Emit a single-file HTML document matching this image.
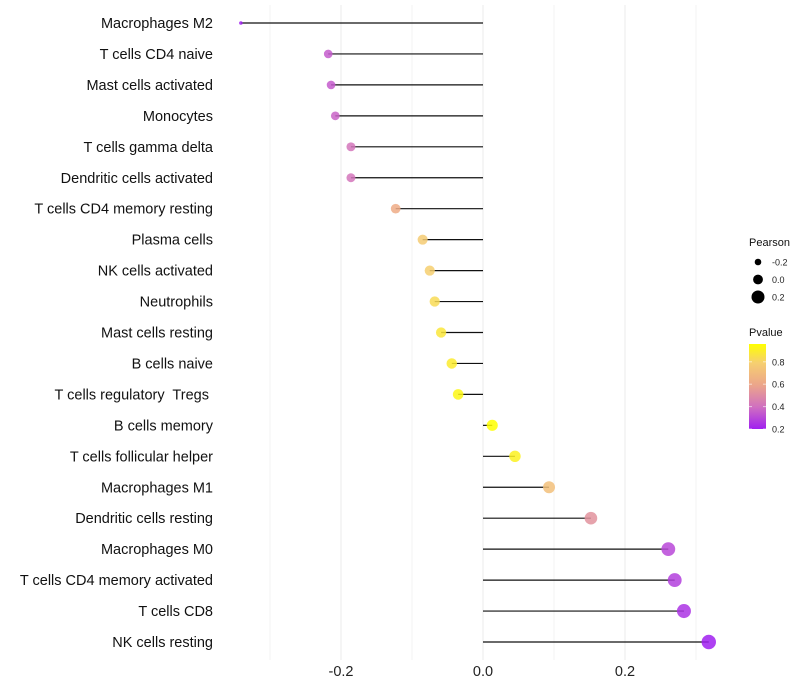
<!DOCTYPE html>
<html><head><meta charset="utf-8"><style>
html,body{margin:0;padding:0;background:#fff;}
svg{display:block;font-family:"Liberation Sans",sans-serif;}
text{white-space:pre;}
</style></head><body>
<svg id="chart" width="800" height="700"></svg>
<script>
const categories=["Macrophages M2","T cells CD4 naive","Mast cells activated","Monocytes","T cells gamma delta","Dendritic cells activated","T cells CD4 memory resting","Plasma cells","NK cells activated","Neutrophils","Mast cells resting","B cells naive","T cells regulatory  Tregs ","B cells memory","T cells follicular helper","Macrophages M1","Dendritic cells resting","Macrophages M0","T cells CD4 memory activated","T cells CD8","NK cells resting"];
const pearson=[-0.341,-0.218,-0.214,-0.208,-0.186,-0.186,-0.123,-0.085,-0.075,-0.068,-0.059,-0.044,-0.035,0.013,0.045,0.093,0.152,0.261,0.270,0.283,0.318];
const pvalue=[0.18,0.35,0.35,0.37,0.42,0.42,0.63,0.78,0.8,0.84,0.88,0.9,0.94,0.98,0.92,0.72,0.53,0.3,0.28,0.25,0.2];
const xTicks=[-0.2,0.0,0.2];
const xTickLabels=["-0.2","0.0","0.2"];
const xMinor=[-0.3,-0.1,0.1,0.3];
const sizeLegend=[-0.2,0.0,0.2];
const pLegendTicks=[0.2,0.4,0.6,0.8];

const NS="http://www.w3.org/2000/svg";
const svg=document.getElementById('chart');
function mk(t,a,p){const e=document.createElementNS(NS,t);for(const k in a)e.setAttribute(k,a[k]);(p||svg).appendChild(e);return e;}
const x=v=>483+v*710;
const y=i=>23+i*30.95;
const rad=v=>v>=-0.22?4.3+5.4*(v+0.22):Math.max(1.8,4.3-(-0.22-v)*21);
const legRad=v=>4.9+8*v;
const stops=[[0.2,[160,32,240]],[0.4,[208,112,192]],[0.6,[236,166,138]],[0.8,[246,207,112]],[0.97,[255,255,0]]];
function col(p){if(p<=stops[0][0])return 'rgb('+stops[0][1]+')';for(let i=1;i<stops.length;i++){if(p<=stops[i][0]){const a=stops[i-1],b=stops[i],t=(p-a[0])/(b[0]-a[0]);return 'rgb('+a[1].map((c,j)=>Math.round(c+(b[1][j]-c)*t)).join(',')+')';}}return 'rgb(255,255,0)';}

xMinor.forEach(v=>{const l=mk('line',{x1:x(v),x2:x(v),y1:5,y2:660,stroke:'#f3f3f3','stroke-width':1});

});
xTicks.forEach((v,i)=>{const l=mk('line',{x1:x(v),x2:x(v),y1:5,y2:660,stroke:'#ebebeb','stroke-width':1});


const t=mk('text',{x:x(v),y:676,'text-anchor':'middle','font-size':14.5,fill:'#222'});t.textContent=xTickLabels[i];

});

categories.forEach((c,i)=>{
const t=mk('text',{x:213,y:y(i)+5,'text-anchor':'end','font-size':14.5,fill:'#111'});t.textContent=c;


const l=mk('line',{x1:x(0),x2:x(pearson[i]),y1:y(i),y2:y(i),stroke:'#111','stroke-width':1.2});


const d=mk('circle',{cx:x(pearson[i]),cy:y(i),r:rad(pearson[i]),fill:col(pvalue[i]),'fill-opacity':0.85});


});

let t=mk('text',{x:749,y:246,'font-size':11,fill:'#111'});t.textContent='Pearson';


sizeLegend.forEach((v,i)=>{const cy=262+i*17.5;
const c=mk('circle',{cx:758,cy:cy,r:legRad(v),fill:'#000'});


const l=mk('text',{x:772,y:cy+3.5,'font-size':9,fill:'#222'});l.textContent=sizeLegend[i].toFixed(1);

});
t=mk('text',{x:749,y:336,'font-size':11,fill:'#111'});t.textContent='Pvalue';


const defs=mk('defs',{});const g=mk('linearGradient',{id:'pg',x1:0,y1:1,x2:0,y2:0},defs);
stops.forEach(s=>mk('stop',{offset:((s[0]-0.2)/(0.97-0.2)),'stop-color':'rgb('+s[1]+')'},g));
const bar=mk('rect',{x:749,y:344,width:17,height:85,fill:'url(#pg)'});


const py=p=>429-(p-0.2)/0.2*22.4;
pLegendTicks.forEach(p=>{mk('line',{x1:749,x2:752,y1:py(p),y2:py(p),stroke:'#fff','stroke-opacity':0.6});mk('line',{x1:763,x2:766,y1:py(p),y2:py(p),stroke:'#fff','stroke-opacity':0.6});
const l=mk('text',{x:772,y:py(p)+3.5,'font-size':9,fill:'#222'});l.textContent=p.toFixed(1);

});
</script>
</body></html>
